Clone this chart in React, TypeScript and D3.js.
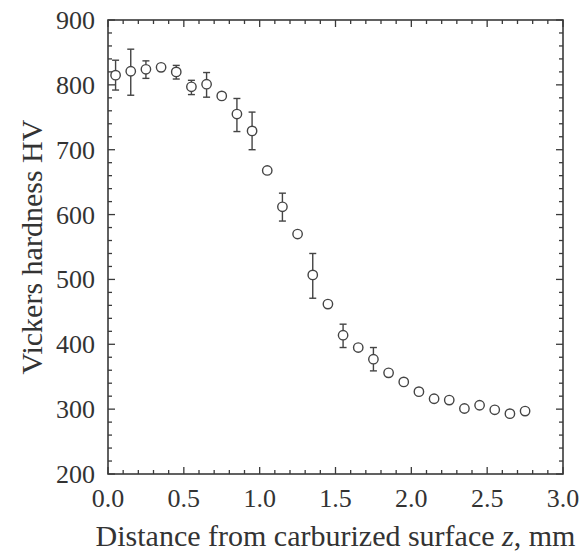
import React from "react";
import * as d3 from "d3";

const depth = [0.05,0.15,0.25,0.35,0.45,0.55,0.65,0.75,0.85,0.95,1.05,1.15,1.25,1.35,1.45,1.55,1.65,1.75,1.85,1.95,2.05,2.15,2.25,2.35,2.45,2.55,2.65,2.75];
const hardness = [815,821,824,827,820,797,801,783,755,729,668,612,570,507,462,414,395,377,356,342,327,316,314,301,306,299,293,297];
const errLow = [23,37,14,0,11,12,20,0,27,29,0,22,3,36,3,19,0,18,0,0,0,3,3,3,3,0,0,0];
const errHigh = [23,34,13,0,10,10,18,0,24,29,0,21,3,33,3,17,0,18,0,0,0,3,3,3,3,0,0,0];
const xTickLabels = ["0.0","0.5","1.0","1.5","2.0","2.5","3.0"];
const yTickLabels = ["200","300","400","500","600","700","800","900"];

export default function App() {
  const W = 587, H = 553;
  const L = 108, R = 563, T = 20, B = 474;
  const x = d3.scaleLinear().domain([0, 3]).range([L, R]);
  const y = d3.scaleLinear().domain([200, 900]).range([B, T]);
  const line = "#3a3a3a";
  const text = "#333";
  const font = "'Liberation Serif', 'Times New Roman', serif";
  const xMinor = d3.range(0, 3.0001, 0.1);
  const yMinor = d3.range(200, 900.001, 20);
  const majX = xTickLabels.map(Number);
  const majY = yTickLabels.map(Number);
  const isMajX = (v: number) => majX.some(m => Math.abs(m - v) < 1e-6);
  const isMajY = (v: number) => majY.some(m => Math.abs(m - v) < 1e-6);
  const maj = 7, mnr = 4;
  return (
    <svg width={W} height={H} style={{ position: "absolute", left: 0, top: 0, background: "#fff" }}>
      <rect x={0} y={0} width={W} height={H} fill="#fff" />
      {xMinor.map((v, i) => {
        const len = isMajX(v) ? maj : mnr;
        const px = x(v);
        return (
          <g key={"xt" + i} stroke={line} strokeWidth={1.3}>
            <line x1={px} x2={px} y1={B} y2={B - len} />
            <line x1={px} x2={px} y1={T} y2={T + len} />
          </g>
        );
      })}
      {yMinor.map((v, i) => {
        const len = isMajY(v) ? maj : mnr;
        const py = y(v);
        return (
          <g key={"yt" + i} stroke={line} strokeWidth={1.3}>
            <line x1={L} x2={L + len} y1={py} y2={py} />
            <line x1={R} x2={R - len} y1={py} y2={py} />
          </g>
        );
      })}
      <rect x={L} y={T} width={R - L} height={B - T} fill="none" stroke={line} strokeWidth={1.6} />
      {xTickLabels.map((t, i) => (
        <text key={"xl" + i} x={x(majX[i])} y={507} textAnchor="middle" fontFamily={font} fontSize={26} fill={text}>{t}</text>
      ))}
      {yTickLabels.map((t, i) => (
        <text key={"yl" + i} x={95} y={y(majY[i]) + 9} textAnchor="end" fontFamily={font} fontSize={26} fill={text}>{t}</text>
      ))}
      <text x={(L + R) / 2} y={546} textAnchor="middle" fontFamily={font} fontSize={30} fill={text}>
        Distance from carburized surface <tspan fontStyle="italic">z</tspan>, mm
      </text>
      <text transform={`translate(42, ${(T + B) / 2}) rotate(-90)`} textAnchor="middle" fontFamily={font} fontSize={30} fill={text}>
        Vickers hardness HV
      </text>
      {depth.map((d, i) => {
        const px = x(d), py = y(hardness[i]);
        const top = y(hardness[i] + errHigh[i]), bot = y(hardness[i] - errLow[i]);
        const hasErr = errLow[i] > 0 || errHigh[i] > 0;
        return (
          <g key={"p" + i} stroke="#444" strokeWidth={1.4} fill="none">
            {hasErr && (
              <>
                <line x1={px} x2={px} y1={top} y2={py - 4.5} />
                <line x1={px} x2={px} y1={py + 4.5} y2={bot} />
                <line x1={px - 3.5} x2={px + 3.5} y1={top} y2={top} />
                <line x1={px - 3.5} x2={px + 3.5} y1={bot} y2={bot} />
              </>
            )}
            <circle cx={px} cy={py} r={4.7} fill="#fff" />
          </g>
        );
      })}
    </svg>
  );
}
